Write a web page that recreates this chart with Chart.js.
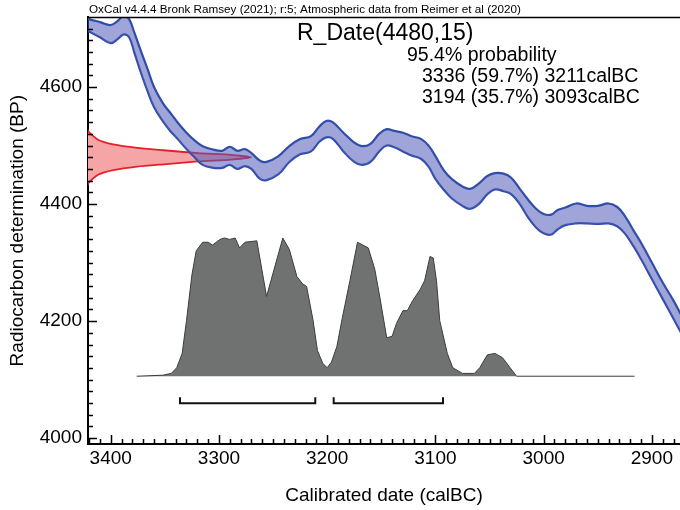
<!DOCTYPE html>
<html>
<head>
<meta charset="utf-8">
<script src="https://cdn.jsdelivr.net/npm/chart.js@4.4.1/dist/chart.umd.min.js"></script>
<style>
  html, body { margin: 0; padding: 0; background: #fff; }
</style>
</head>
<body>
<canvas id="chart" width="680" height="510"></canvas>
<script>
// calibration curve band (upper / lower edge, BP)
const calYears = [3425, 3420, 3410, 3400, 3393, 3388, 3383, 3378, 3372, 3366,
  3360, 3352, 3345, 3338, 3330, 3322, 3315, 3305, 3297, 3290,
  3283, 3276, 3270, 3262, 3256, 3245, 3235, 3225, 3215, 3207,
  3201, 3195, 3185, 3175, 3168, 3160, 3152, 3145, 3138, 3130,
  3122, 3113, 3106, 3100, 3092, 3085, 3075, 3068, 3060, 3052,
  3045, 3037, 3030, 3022, 3015, 3007, 3000, 2993, 2987, 2980,
  2970, 2960, 2950, 2940, 2932, 2925, 2917, 2910, 2900, 2890,
  2880, 2870];
const calUpper = [4720, 4716, 4711, 4706, 4714, 4723, 4716, 4692, 4661, 4631,
  4600, 4573, 4556, 4539, 4522, 4508, 4499, 4493, 4491, 4498,
  4491, 4494, 4487, 4474, 4472, 4482, 4499, 4511, 4516, 4533,
  4542, 4540, 4522, 4505, 4499, 4503, 4520, 4528, 4525, 4522,
  4516, 4511, 4499, 4482, 4457, 4443, 4430, 4426, 4435, 4448,
  4453, 4452, 4445, 4426, 4409, 4392, 4383, 4382, 4390, 4394,
  4401, 4397, 4397, 4401, 4395, 4380, 4355, 4334, 4300, 4266,
  4235, 4200];
const calLower = [4700, 4695, 4685, 4675, 4683, 4690, 4685, 4658, 4624, 4593,
  4566, 4542, 4525, 4511, 4494, 4479, 4467, 4462, 4462, 4467,
  4460, 4465, 4460, 4443, 4441, 4451, 4472, 4485, 4490, 4507,
  4514, 4512, 4490, 4472, 4467, 4472, 4490, 4500, 4497, 4490,
  4483, 4477, 4463, 4443, 4424, 4410, 4397, 4392, 4400, 4417,
  4425, 4422, 4417, 4400, 4379, 4360, 4350, 4348, 4357, 4364,
  4367, 4367, 4366, 4367, 4362, 4350, 4328, 4306, 4272, 4238,
  4204, 4170];

// R_Date(4480,15) measurement, relative probability by BP
const dateBP = [4545, 4525, 4510, 4502, 4496, 4492, 4487, 4484, 4480,
  4476, 4473, 4468, 4464, 4458, 4450, 4435, 4415];
const dateProb = [0, 0.012, 0.073, 0.165, 0.31, 0.47, 0.68, 0.88, 1.0,
  0.88, 0.68, 0.47, 0.31, 0.165, 0.073, 0.012, 0];

// calibrated date distribution (relative)
const probYears = [3376, 3352, 3344, 3339, 3334, 3330, 3325, 3321, 3315, 3310,
  3306, 3299, 3295, 3290, 3285, 3281, 3276, 3265, 3256, 3241,
  3235, 3228, 3223, 3219, 3213, 3209, 3204, 3200, 3196, 3191,
  3186, 3179, 3172, 3162, 3156, 3151, 3145, 3140, 3136, 3130,
  3126, 3121, 3114, 3110, 3105, 3102, 3099, 3096, 3089, 3084,
  3075, 3064, 3059, 3052, 3045, 3038, 3031, 3025, 2916];
const probValues = [0, 0.007, 0.02, 0.06, 0.16, 0.39, 0.71, 0.88, 0.94, 0.94,
  0.92, 0.96, 0.97, 0.96, 0.97, 0.90, 0.94, 0.95, 0.56, 0.97,
  0.89, 0.70, 0.65, 0.63, 0.39, 0.18, 0.09, 0.06, 0.10, 0.21,
  0.41, 0.67, 0.94, 0.90, 0.75, 0.54, 0.27, 0.28, 0.37, 0.46,
  0.46, 0.53, 0.61, 0.67, 0.84, 0.83, 0.67, 0.39, 0.16, 0.06,
  0.02, 0.02, 0.06, 0.15, 0.16, 0.13, 0.06, 0, 0];

// 95.4% ranges (calBC)
const ranges = [[3336, 3211], [3194, 3093]];

const xTicks = [3400, 3300, 3200, 3100, 3000, 2900];
const yTicks = [4000, 4200, 4400, 4600];
const headerText = 'OxCal v4.4.4 Bronk Ramsey (2021); r:5; Atmospheric data from Reimer et al (2020)';
const titleText = 'R_Date(4480,15)';
const rangeText = ['95.4% probability', '3336 (59.7%) 3211calBC', '3194 (35.7%) 3093calBC'];

const family = "'Liberation Sans', Arial, Helvetica, sans-serif";

// frame top, minor ticks and the text block
const oxcalDecor = {
    id: 'oxcalDecor',
    afterDraw(chart) {
        const { ctx, chartArea: a, scales } = chart;
        ctx.save();
        ctx.strokeStyle = '#000';
        ctx.lineWidth = 1.5;
        ctx.beginPath();
        ctx.moveTo(a.left, a.top);
        ctx.lineTo(a.right, a.top);
        for (let yr = 2880; yr <= 3420; yr += 10) {
            const px = Math.round(scales.x.getPixelForValue(yr)) + 0.5;
            const len = yr % 100 === 0 ? 9 : 5;
            ctx.moveTo(px, a.bottom);
            ctx.lineTo(px, a.bottom - len);
        }
        for (let bp = 4000; bp <= 4700; bp += 20) {
            const py = Math.round(scales.y.getPixelForValue(bp)) + 0.5;
            const len = bp % 200 === 0 ? 9 : 5;
            ctx.moveTo(a.left, py);
            ctx.lineTo(a.left + len, py);
        }
        ctx.stroke();

        ctx.fillStyle = '#000';
        ctx.textBaseline = 'alphabetic';
        ctx.font = '11.7px ' + family;
        ctx.fillText(headerText, 89, 13);
        ctx.font = '23px ' + family;
        ctx.fillText(titleText, 297, 40);
        ctx.font = '19.5px ' + family;
        ctx.fillText(rangeText[0], 407, 61);
        ctx.fillText(rangeText[1], 422, 82);
        ctx.fillText(rangeText[2], 422, 103);
        ctx.restore();
    }
};

const ctx = document.getElementById('chart').getContext('2d');
new Chart(ctx, {
    type: 'line',
    data: {
        datasets: [{
            // measurement distribution, drawn sideways off the BP axis
            data: dateBP.map((b, i) => ({ x: dateProb[i], y: b })),
            xAxisID: 'xr',
            yAxisID: 'y',
            fill: 'shape',
            backgroundColor: 'rgb(245, 165, 165)',
            borderColor: 'rgb(232, 30, 40)',
            borderWidth: 1.8,
            tension: 0.2,
            clip: 0,
            order: 4
        }, {
            data: calYears.map((yr, i) => ({ x: yr, y: calUpper[i] })),
            xAxisID: 'x',
            yAxisID: 'y',
            fill: '+1',
            backgroundColor: 'rgba(80, 90, 185, 0.55)',
            borderColor: 'rgb(48, 78, 168)',
            borderWidth: 2.2,
            tension: 0.4,
            clip: 0,
            order: 3
        }, {
            data: calYears.map((yr, i) => ({ x: yr, y: calLower[i] })),
            xAxisID: 'x',
            yAxisID: 'y',
            fill: false,
            borderColor: 'rgb(48, 78, 168)',
            borderWidth: 2.2,
            tension: 0.4,
            clip: 0,
            order: 3
        }, {
            data: probYears.map((yr, i) => ({ x: yr, y: probValues[i] })),
            xAxisID: 'x',
            yAxisID: 'yp',
            fill: 'origin',
            backgroundColor: 'rgb(112, 114, 114)',
            borderColor: 'rgb(60, 60, 60)',
            borderWidth: 1,
            tension: 0,
            order: 2
        }].concat(ranges.map(r => ({
            data: [{ x: r[0], y: -0.147 }, { x: r[0], y: -0.189 }, { x: r[1], y: -0.189 }, { x: r[1], y: -0.147 }],
            xAxisID: 'x',
            yAxisID: 'yp',
            fill: false,
            borderColor: '#111',
            borderWidth: 2,
            tension: 0,
            order: 1
        })))
    },
    options: {
        responsive: false,
        animation: false,
        events: [],
        layout: { padding: { top: 16, right: 0, left: 0, bottom: 0 } },
        elements: { point: { radius: 0 } },
        plugins: {
            legend: { display: false },
            tooltip: { enabled: false }
        },
        scales: {
            x: {
                type: 'linear',
                reverse: true,
                min: 2874,
                max: 3421,
                afterBuildTicks: s => { s.ticks = xTicks.map(v => ({ value: v })); },
                afterFit: s => { s.height = 66; },
                grid: { display: false, drawTicks: false },
                border: { display: true, color: '#000', width: 2 },
                ticks: {
                    color: '#000', padding: 3, maxRotation: 0, autoSkip: false,
                    font: { size: 19, family: family },
                    callback: v => String(v)
                },
                title: {
                    display: true, text: 'Calibrated date (calBC)', color: '#000',
                    font: { size: 19, family: family }, padding: { top: 0, bottom: 3 }
                }
            },
            y: {
                type: 'linear',
                min: 3990,
                max: 4719,
                afterBuildTicks: s => { s.ticks = yTicks.map(v => ({ value: v })); },
                afterFit: s => { s.width = 88; },
                grid: { display: false, drawTicks: false },
                border: { display: true, color: '#000', width: 2 },
                ticks: {
                    color: '#000', padding: 6, autoSkip: false,
                    font: { size: 19, family: family },
                    callback: v => String(v)
                },
                title: {
                    display: true, text: 'Radiocarbon determination (BP)', color: '#000',
                    font: { size: 19, family: family }, padding: { top: 6, bottom: 0 }
                }
            },
            xr: { type: 'linear', axis: 'x', display: false, min: 0.012, max: 3.6 },
            yp: { type: 'linear', axis: 'y', display: false, min: -0.4755, max: 2.5175 }
        }
    },
    plugins: [oxcalDecor]
});
</script>
</body>
</html>
